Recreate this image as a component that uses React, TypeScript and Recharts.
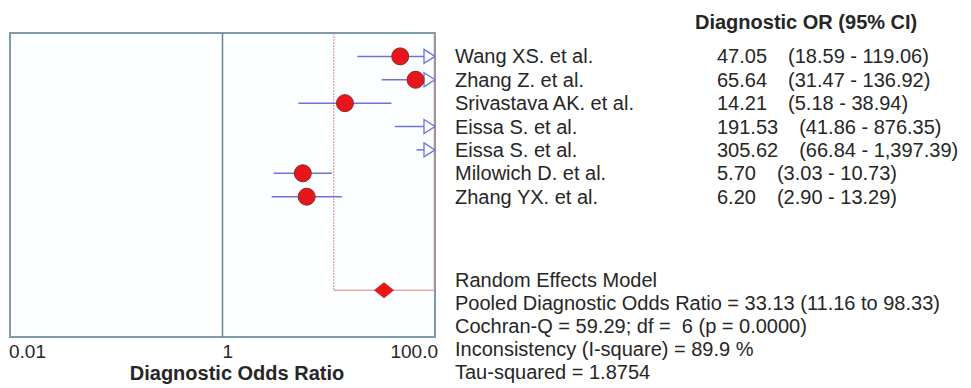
import { ScatterChart, Scatter, XAxis, YAxis, ReferenceLine, ReferenceArea } from 'recharts';

const STUDIES = [
  'Wang XS. et al.',
  'Zhang Z. et al.',
  'Srivastava AK. et al.',
  'Eissa S. et al.',
  'Eissa S. et al.',
  'Milowich D. et al.',
  'Zhang YX. et al.',
];
const OR_VALUES = [47.05, 65.64, 14.21, 191.53, 305.62, 5.7, 6.2];
const CI_LOW = [18.59, 31.47, 5.18, 41.86, 66.84, 3.03, 2.9];
const CI_HIGH = [119.06, 136.92, 38.94, 876.35, 1397.39, 10.73, 13.29];
const OR_LABELS = ['47.05', '65.64', '14.21', '191.53', '305.62', '5.70', '6.20'];
const CI_LABELS = [
  '(18.59 - 119.06)',
  '(31.47 - 136.92)',
  '(5.18 - 38.94)',
  '(41.86 - 876.35)',
  '(66.84 - 1,397.39)',
  '(3.03 - 10.73)',
  '(2.90 - 13.29)',
];

const POOLED = [33.13, 11.16, 98.33]; // estimate, low, high
const POOLED_ROW = 11;

const X_TICKS = [0.01, 1, 100];
const X_TICK_LABELS = ['0.01', '1', '100.0'];
const X_MIN = 0.01;
const X_MAX = 100;
const Y_MAX = 13;

const SUMMARY = [
  'Random Effects Model',
  'Pooled Diagnostic Odds Ratio = 33.13 (11.16 to 98.33)',
  'Cochran-Q = 59.29; df =  6 (p = 0.0000)',
  'Inconsistency (I-square) = 89.9 %',
  'Tau-squared = 1.8754',
];

const FONT = '"Liberation Sans", Arial, sans-serif';
const TEXT = '#262626';
const BLUE = '#6d73d9';
const RED = '#e8151b';
const BRACKET = '#d98a8a';

const W = 971;
const H = 388;
const PLOT_TOP = 33;
const PLOT_BOTTOM = 337;
const rowY = (row: number) => PLOT_TOP + (row * (PLOT_BOTTOM - PLOT_TOP)) / Y_MAX;

const points = OR_VALUES.map((v, i) => ({ x: v, y: i + 1 })).filter((p) => p.x <= X_MAX);
const arrows = CI_HIGH.map((v, i) => ({ x: X_MAX, y: i + 1, over: v > X_MAX })).filter((p) => p.over);
const pooledPoint = [{ x: POOLED[0], y: POOLED_ROW }];

const Dot = (props: any) => (
  <circle cx={props.cx} cy={props.cy} r={8.5} fill={RED} stroke="#8c2a22" strokeWidth={1} />
);

const Arrow = (props: any) => {
  const { cx, cy } = props;
  return (
    <path
      d={`M${cx - 11},${cy - 7} L${cx},${cy} L${cx - 11},${cy + 7} Z`}
      fill="#fcfdff"
      stroke={BLUE}
      strokeWidth={1.3}
    />
  );
};

const Diamond = (props: any) => {
  const { cx, cy } = props;
  return <path d={`M${cx},${cy - 8} L${cx + 10},${cy} L${cx},${cy + 8} L${cx - 10},${cy} Z`} fill={RED} />;
};

const Tick = (props: any) => {
  const { x, y, payload } = props;
  const i = X_TICKS.indexOf(payload.value);
  const anchor = i === X_TICKS.length - 1 ? 'end' : 'start';
  const dx = i === 0 ? -1 : i === X_TICKS.length - 1 ? 3 : 0;
  return (
    <text x={x + dx} y={y} dy={13} textAnchor={anchor} fontSize={19} fontFamily={FONT} fill={TEXT}>
      {X_TICK_LABELS[i]}
    </text>
  );
};

export default function App() {
  return (
    <div style={{ position: 'absolute', left: 0, top: 0, width: W, height: H, background: '#ffffff' }}>
      <ScatterChart width={W} height={H} margin={{ top: PLOT_TOP, left: 10, right: 536, bottom: H - PLOT_BOTTOM - 20 }}>
        <XAxis
          type="number"
          dataKey="x"
          scale="log"
          domain={[X_MIN, X_MAX]}
          ticks={X_TICKS}
          interval={0}
          allowDataOverflow
          axisLine={false}
          tickLine={false}
          height={20}
          tick={<Tick />}
        />
        <YAxis type="number" dataKey="y" domain={[0, Y_MAX]} reversed hide width={0} />
        <ReferenceArea x1={X_MIN} x2={X_MAX} y1={0} y2={Y_MAX} fill="#fcfdff" fillOpacity={1} stroke="#7c9bab" strokeWidth={2} />
        <ReferenceLine x={1} stroke="#6b8794" strokeWidth={1.5} />
        <ReferenceLine
          segment={[{ x: POOLED[1], y: 0 }, { x: POOLED[1], y: POOLED_ROW }]}
          stroke={BRACKET}
          strokeWidth={1}
          strokeDasharray="2 1"
        />
        <ReferenceLine
          segment={[{ x: POOLED[1], y: POOLED_ROW }, { x: POOLED[2], y: POOLED_ROW }]}
          stroke={BRACKET}
          strokeWidth={1.2}
        />
        <ReferenceLine
          segment={[{ x: POOLED[2], y: 0 }, { x: POOLED[2], y: POOLED_ROW }]}
          stroke={BRACKET}
          strokeWidth={1}
        />
        {OR_VALUES.map((_, i) => (
          <ReferenceLine
            key={i}
            segment={[
              { x: CI_LOW[i], y: i + 1 },
              { x: Math.min(CI_HIGH[i], X_MAX), y: i + 1 },
            ]}
            stroke={BLUE}
            strokeWidth={1.5}
          />
        ))}
        <Scatter data={arrows} shape={<Arrow />} isAnimationActive={false} />
        <Scatter data={points} shape={<Dot />} isAnimationActive={false} />
        <Scatter data={pooledPoint} shape={<Diamond />} isAnimationActive={false} />
      </ScatterChart>
      <svg
        width={W}
        height={H}
        style={{ position: 'absolute', left: 0, top: 0, pointerEvents: 'none' }}
        fontFamily={FONT}
        fill={TEXT}
      >
        <text x={237} y={380} textAnchor="middle" fontSize={20} fontWeight="bold">
          Diagnostic Odds Ratio
        </text>
        <text x={695} y={29} fontSize={20} fontWeight="bold">
          Diagnostic OR (95% CI)
        </text>
        {STUDIES.map((name, i) => (
          <g key={i}>
            <text x={455} y={rowY(i + 1) + 7} fontSize={20}>
              {name}
            </text>
            <text x={717} y={rowY(i + 1) + 7} fontSize={20}>
              <tspan>{OR_LABELS[i]}</tspan>
              <tspan dx={21}>{CI_LABELS[i]}</tspan>
            </text>
          </g>
        ))}
        {SUMMARY.map((line, i) => (
          <text key={i} x={455} y={287 + i * 23} fontSize={20} xmlSpace="preserve" style={{ whiteSpace: 'pre' }}>
            {line}
          </text>
        ))}
      </svg>
    </div>
  );
}
